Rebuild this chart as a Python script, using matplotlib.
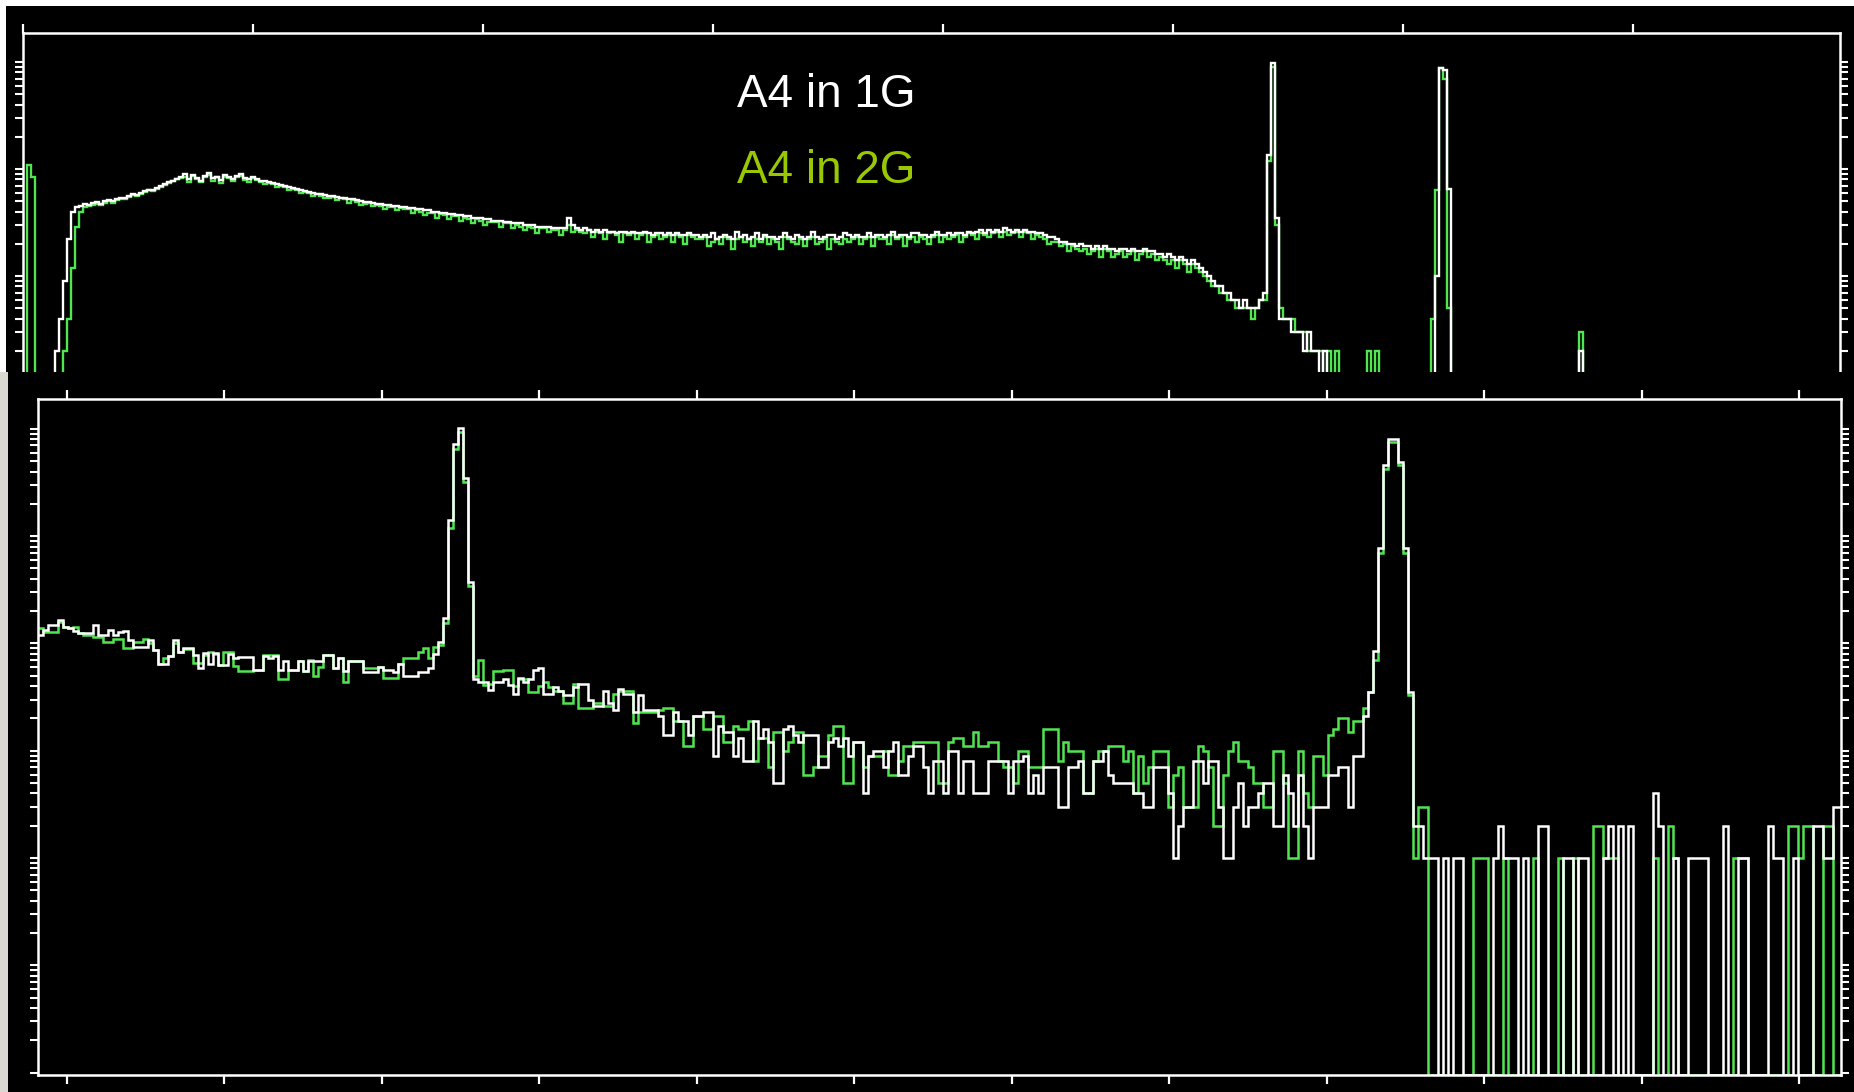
import matplotlib.pyplot as plt
import numpy as np
from matplotlib.patches import Rectangle
from matplotlib.ticker import FixedLocator, LogLocator, NullFormatter

# upper panel: full spectrum, counts per channel (454 channels)
top_1g = [
    0, 0, 0, 0, 0, 0, 0, 0, 2, 4, 9, 22, 40, 44,
    45, 47, 46, 48, 49, 47, 50, 51, 50, 52, 53,
    54, 56, 58, 57, 60, 62, 64, 63, 67, 70, 72, 75, 78, 81,
    84, 89, 80, 87, 83, 78, 86, 91, 82, 85, 79, 88, 84, 81, 86, 90, 83, 80, 85,
    80, 78, 77, 75, 74, 72, 71, 69, 68, 66, 65, 64, 62, 61, 60,
    59, 58, 57, 56, 56, 55, 54, 53, 52, 52, 51, 50, 49, 49, 48, 47, 47, 46, 46, 45, 45, 44, 44,
    43, 43, 42, 42, 41, 41, 40, 40, 39, 39, 38, 38, 37, 37, 36, 36, 35, 35, 35, 34, 34, 33,
    33, 33, 32, 32, 31, 31, 31, 30, 30, 30, 29, 29, 29, 29, 28, 28, 28, 28, 35, 30, 28,
    27, 28, 27, 26, 27, 26, 27, 26, 26, 25, 26, 26, 25, 26, 25, 25, 26, 25, 24, 25,
    25, 24, 25, 24, 25, 24, 24, 25, 24, 24,
    23, 24, 23, 25, 22, 23, 24, 23, 22, 26, 23, 24, 22, 23, 25, 22, 24, 23, 23, 22,
    23, 25, 23, 22, 24, 23, 22, 23, 26, 23, 22, 23, 24, 24, 22, 23, 25, 24,
    23, 24, 23, 23, 25, 23, 24, 24, 23, 24, 26, 23, 24, 24, 23, 25, 25, 24, 24, 23,
    24, 26, 24, 24, 25,
    24, 25, 25, 24, 26, 25, 26, 27, 25, 27, 26, 27, 26, 28, 27, 26,
    27, 26, 27, 26, 26, 25, 25,
    24, 23, 23, 22, 21, 21, 20, 20, 19, 20,
    19, 19, 18, 19, 18, 19, 18, 18, 17, 18, 18, 17, 18, 17, 17, 18, 17,
    17, 16, 16, 15, 16, 15, 14, 15, 14, 13, 14, 13,
    12, 11, 10, 9, 8, 8, 7,
    7, 6, 6, 5, 6, 5, 5, 5, 6,
    7, 135, 980, 35,
    4, 4, 4, 3, 3, 3, 2, 3, 2, 2, 1, 2,
    1, 1, 0, 1, 0, 0, 1, 0, 0, 0, 1, 0, 0, 0, 0, 1, 0, 0, 0, 0, 0, 1, 0, 0, 0, 0, 1,
    10, 880, 850, 65,
    0, 0, 0, 1, 0, 0, 0, 0, 0, 0, 0, 0, 0, 0, 0, 0,
    0, 0, 0, 0, 0, 0, 0, 0, 0, 0, 0, 0, 0, 0, 0, 0,
    2,
    0, 0, 0, 0, 0, 0, 0, 0, 0, 0, 0, 0, 0, 0, 0, 0,
    0, 0, 0, 0, 0, 0, 0, 0, 0, 0, 0, 0, 0, 0, 0, 0,
    0, 0, 0, 0, 0, 0, 0, 0, 0, 0, 0, 0, 0, 0, 0, 0,
    0, 0, 0, 0, 0, 0, 0, 0, 0, 0, 0, 0, 0, 0, 0, 0,
]
top_2g = [
    0, 110, 85, 0, 0, 0, 0, 0, 0, 0, 2, 4, 12, 29,
    40, 44, 45, 46, 47, 46, 48, 50, 48, 51, 52,
    52, 55, 57, 56, 58, 61, 63, 62, 65, 68, 71, 74, 77, 80,
    82, 85, 76, 86, 80, 75, 84, 87, 78, 84, 74, 85, 82, 77, 84, 86, 79, 76, 83,
    79, 76, 72, 74, 72, 68, 69, 68, 63, 65, 64, 60, 61, 60, 56,
    58, 56, 53, 54, 55, 51, 53, 52, 48, 51, 49, 46, 47, 48, 45, 46, 45, 42, 44, 44, 41, 43, 42,
    42, 39, 41, 40, 37, 39, 39, 35, 38, 37, 34, 36, 36, 33, 35, 34, 31, 34, 33, 30, 32, 32,
    32, 29, 31, 31, 28, 30, 29, 27, 29, 28, 25, 28, 28, 26, 27, 27, 24, 27, 30, 26, 27,
    26, 25, 27, 23, 26, 25, 22, 25, 26, 24, 21, 25, 24, 25, 22, 24, 25, 21, 23, 24,
    22, 23, 24, 21, 24, 23, 20, 24, 23, 22,
    22, 23, 19, 21, 22, 20, 23, 22, 18, 22, 23, 21, 22, 19, 22, 21, 23, 20, 22, 21,
    18, 23, 22, 21, 20, 22, 19, 22, 23, 20, 21, 22, 18, 22, 21, 20, 22, 21,
    22, 23, 20, 22, 23, 19, 23, 22, 22, 20, 24, 22, 23, 19, 22, 23, 21, 23, 22, 20,
    23, 24, 21, 23, 22,
    23, 24, 21, 23, 25, 24, 22, 25, 24, 23, 25, 26, 23, 26, 24, 25,
    26, 23, 26, 25, 22, 24, 23,
    22, 20, 21, 21, 19, 20, 17, 19, 18, 17,
    18, 16, 17, 18, 15, 18, 17, 15, 16, 17, 15, 16, 17, 14, 16, 17, 15,
    16, 14, 15, 14, 13, 14, 12, 14, 13, 11, 13, 12,
    11, 10, 9, 8, 8, 7, 7,
    6, 6, 5, 5, 5, 5, 4, 5, 6,
    6, 120, 900, 30,
    5, 4, 4, 4, 3, 3, 3, 2, 2, 2, 2, 1,
    2, 1, 2, 1, 0, 0, 1, 0, 0, 0, 2, 1, 2, 0, 0, 1, 0, 0, 0, 0, 0, 0, 1, 0, 0, 0, 4,
    63, 880, 700, 5,
    0, 0, 0, 0, 0, 0, 0, 0, 0, 0, 0, 0, 0, 0, 0, 0,
    0, 0, 0, 0, 0, 0, 0, 0, 0, 0, 0, 0, 0, 0, 0, 0,
    3,
    0, 0, 0, 0, 0, 0, 0, 0, 0, 0, 0, 0, 0, 0, 0, 0,
    0, 0, 0, 0, 0, 0, 0, 0, 0, 0, 0, 0, 0, 0, 0, 0,
    0, 0, 0, 0, 0, 0, 0, 0, 0, 0, 0, 0, 0, 0, 0, 0,
    0, 0, 0, 0, 0, 0, 0, 0, 0, 0, 0, 0, 0, 0, 0, 0,
]

# lower panel: zoomed range, counts per channel (361 channels)
low_1g = [
    120, 133, 150, 150, 165, 142, 138, 130, 124, 124,
    124, 148, 121, 121, 133, 120, 129, 130, 107, 93,
    93, 93, 107, 87, 64, 64, 76, 107, 84, 90,
    90, 78, 59, 81, 64, 81, 63, 63, 79, 73,
    74, 74, 74, 57, 57, 76, 73, 76, 57, 69,
    57, 57, 68, 55, 69, 68, 68, 78, 78, 59,
    73, 55, 68, 69, 69, 54, 54, 54, 60, 57,
    57, 54, 64, 50, 50, 50, 54, 54, 59, 79,
    102, 171, 1410, 7170, 10200, 3500, 376, 47, 44, 44,
    37, 44, 44, 47, 41, 34, 48, 44, 47, 57,
    59, 34, 34, 39, 36, 33, 33, 39, 42, 42,
    30, 26, 26, 36, 28, 24, 38, 34, 34, 23,
    33, 24, 24, 24, 21, 14, 14, 23, 19, 19,
    14, 21, 21, 23, 23, 9, 17, 15, 15, 9,
    13, 8, 8, 19, 13, 16, 12, 5, 5, 16,
    17, 14, 12, 14, 14, 14, 7, 7, 12, 13,
    11, 13, 9, 12, 12, 4, 9, 10, 10, 7,
    10, 12, 6, 6, 9, 11, 11, 7, 4, 8,
    8, 4, 10, 10, 4, 8, 8, 4, 4, 4,
    8, 8, 8, 8, 4, 8, 8, 9, 4, 6,
    4, 7, 7, 7, 3, 3, 7, 7, 8, 4,
    4, 8, 8, 10, 6, 5, 5, 5, 5, 4,
    4, 3, 3, 7, 7, 7, 4, 1, 2, 3,
    3, 8, 8, 5, 8, 8, 3, 1, 1, 3,
    5, 2, 3, 3, 4, 5, 5, 2, 2, 6,
    4, 2, 6, 2, 1, 3, 3, 3, 6, 6,
    7, 7, 3, 9, 9, 21, 35, 85, 770, 4600,
    8000, 8000, 4900, 770, 35, 2, 2, 1, 1, 1,
    0, 1, 0, 1, 1, 0, 0, 0, 0, 0,
    0, 1, 2, 1, 1, 1, 0, 1, 0, 0,
    2, 2, 0, 0, 0, 1, 1, 0, 1, 1,
    0, 0, 0, 1, 2, 0, 2, 0, 2, 0,
    0, 0, 0, 4, 2, 0, 0, 1, 0, 0,
    1, 1, 1, 1, 0, 0, 0, 2, 0, 0,
    1, 1, 0, 0, 0, 0, 2, 1, 1, 0,
    0, 1, 0, 0, 0, 2, 2, 1, 1, 3,
    3,
]
low_2g = [
    140, 129, 129, 129, 160, 142, 140, 142, 124, 120,
    120, 116, 116, 104, 104, 111, 111, 90, 90, 104,
    104, 111, 100, 87, 64, 73, 76, 100, 84, 88,
    88, 65, 65, 78, 84, 80, 63, 84, 84, 61,
    55, 55, 55, 57, 57, 78, 78, 78, 47, 47,
    57, 57, 68, 55, 70, 50, 60, 78, 78, 59,
    73, 44, 68, 68, 68, 59, 59, 59, 60, 48,
    48, 48, 64, 73, 73, 73, 84, 90, 73, 93,
    97, 155, 1180, 6500, 9400, 3200, 340, 50, 70, 41,
    42, 55, 55, 57, 57, 40, 47, 47, 35, 35,
    40, 44, 39, 36, 36, 28, 28, 42, 25, 25,
    25, 28, 28, 26, 26, 34, 36, 36, 36, 18,
    23, 23, 23, 23, 24, 25, 25, 19, 19, 11,
    11, 21, 21, 16, 16, 21, 21, 12, 12, 17,
    16, 16, 19, 8, 13, 13, 7, 15, 15, 10,
    12, 15, 15, 6, 6, 7, 9, 9, 14, 17,
    17, 5, 5, 12, 12, 7, 9, 9, 9, 10,
    6, 6, 8, 11, 11, 12, 12, 12, 12, 12,
    5, 5, 12, 13, 13, 11, 11, 15, 11, 11,
    12, 12, 8, 7, 7, 5, 10, 10, 7, 7,
    7, 16, 16, 16, 8, 12, 10, 10, 10, 4,
    4, 8, 10, 10, 11, 11, 11, 8, 10, 4,
    9, 5, 7, 10, 10, 10, 3, 6, 7, 3,
    3, 3, 11, 10, 7, 2, 2, 6, 10, 12,
    8, 8, 7, 5, 5, 3, 3, 10, 10, 5,
    1, 1, 10, 4, 3, 9, 9, 6, 14, 16,
    20, 20, 15, 19, 19, 25, 35, 70, 700, 4200,
    7600, 7600, 4600, 700, 33, 1, 3, 3, 0, 0,
    0, 0, 0, 0, 0, 0, 0, 1, 1, 1,
    0, 0, 0, 1, 0, 0, 0, 0, 0, 1,
    0, 0, 0, 0, 1, 0, 0, 1, 0, 0,
    0, 2, 2, 1, 1, 1, 0, 0, 0, 0,
    0, 0, 0, 1, 0, 0, 2, 1, 0, 0,
    0, 0, 0, 0, 0, 0, 0, 0, 0, 1,
    1, 1, 0, 0, 0, 0, 0, 0, 0, 0,
    2, 2, 1, 2, 2, 0, 0, 2, 2, 0,
    0,
]

labels = ['A4 in 1G', 'A4 in 2G']
line_colors = ['#ffffff', '#50e650']
text_colors = ['#ffffff', '#99c800']

W, H = 1854, 1092
fig = plt.figure(figsize=(W / 100, H / 100), dpi=100, facecolor='black')


def box(x0, y0, x1, y1):
    # pixel box (top-left origin) -> figure rect
    return [x0 / W, 1 - y1 / H, (x1 - x0) / W, (y1 - y0) / H]


def style(ax, xticks, ylo, yhi, xbottom=True):
    ax.set_facecolor('black')
    ax.set_yscale('log')
    ax.set_ylim(ylo, yhi)
    for s in ax.spines.values():
        s.set_color('white')
        s.set_linewidth(1.8)
    ax.xaxis.set_major_locator(FixedLocator(xticks))
    ax.yaxis.set_major_locator(LogLocator(base=10, numticks=30))
    ax.yaxis.set_minor_locator(LogLocator(base=10, subs=np.arange(2, 10), numticks=30))
    ax.yaxis.set_minor_formatter(NullFormatter())
    ax.tick_params(axis='x', which='both', direction='out', color='white', width=1.6,
                   length=6.5, top=True, bottom=xbottom,
                   labelbottom=False, labeltop=False)
    ax.tick_params(axis='y', which='both', direction='out', color='white', width=1.5,
                   length=5.8, left=True, right=True,
                   labelleft=False, labelright=False)


# upper panel
ax_top = fig.add_axes(box(22.7, 33, 1840, 420))
edges_top = np.arange(len(top_1g) + 1)
ylo_top, yhi_top = 10 ** -0.346, 10 ** 3.271
for vals, c in zip([top_2g, top_1g], line_colors[::-1]):
    ax_top.stairs(np.maximum(vals, ylo_top), edges_top, baseline=None,
                  color=c, lw=1.7, joinstyle='miter')
ax_top.set_xlim(0, 454.3)
style(ax_top, 57.5 * np.arange(8), ylo_top, yhi_top, xbottom=False)

for i, (lab, c) in enumerate(zip(labels, text_colors)):
    fig.text(737 / W, 1 - (107 + 76 * i) / H, lab, color=c, fontsize=33,
             family='Liberation Sans', va='baseline', zorder=3)

# second image pasted below: black sheet with a light edge on the left
fig.add_artist(Rectangle((0, 0), 1, 1 - 372 / H, transform=fig.transFigure,
                         facecolor='black', edgecolor='none', zorder=1))
fig.add_artist(Rectangle((0, 0), 8 / W, 1 - 372 / H, transform=fig.transFigure,
                         facecolor='#d9d9d2', edgecolor='none', zorder=1.5))
fig.add_artist(Rectangle((0, 1 - 372 / H), 6 / W, 372 / H, transform=fig.transFigure,
                         facecolor='white', edgecolor='none', zorder=1.5))
fig.add_artist(Rectangle((0, 1 - 6 / H), 1, 6 / H, transform=fig.transFigure,
                         facecolor='white', edgecolor='none', zorder=3))

# lower panel
ax_low = fig.add_axes(box(37.7, 399.3, 1841, 1075), zorder=2)
edges_low = np.arange(len(low_1g) + 1)
ylo_low, yhi_low = 10 ** -2.022, 10 ** 4.275
for vals, c in zip([low_2g, low_1g], line_colors[::-1]):
    ax_low.stairs(np.maximum(vals, ylo_low), edges_low, baseline=None,
                  color=c, lw=1.8, joinstyle='miter')
ax_low.set_xlim(0, 360.66)
style(ax_low, 5.8 + 31.5 * np.arange(12), ylo_low, yhi_low)

fig.savefig('out.png', dpi=100, facecolor='black')
